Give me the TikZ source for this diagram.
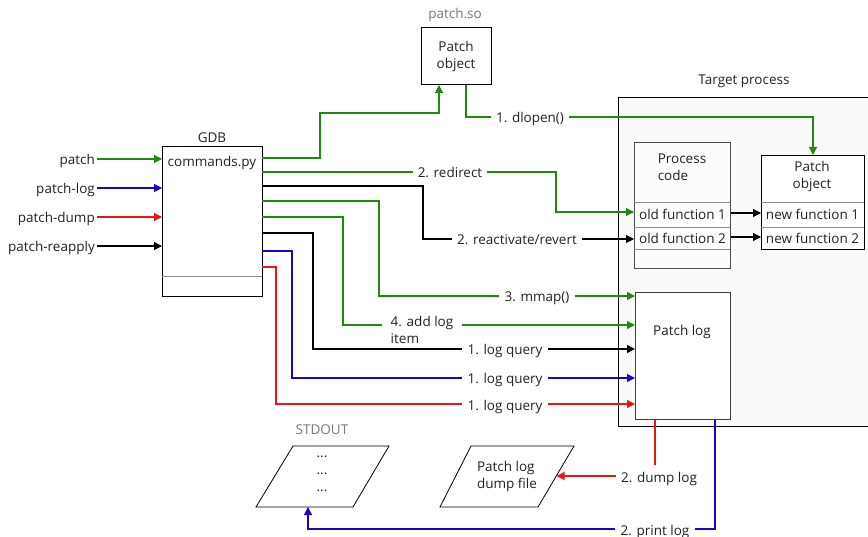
\documentclass[tikz,border=0pt]{standalone}
\usepackage{fontspec}
\setmainfont{Open Sans}
\usetikzlibrary{arrows.meta}
\definecolor{gcol}{RGB}{34,136,17}
\definecolor{bcol}{RGB}{34,0,204}
\definecolor{rcol}{RGB}{238,20,20}
\definecolor{txt}{RGB}{34,34,34}
\definecolor{dim}{RGB}{120,120,120}
\begin{document}
\begin{tikzpicture}[x=1pt,y=-1pt,
  font=\fontsize{13.5}{17}\selectfont,
  every node/.style={text=txt},
  tl/.style={text height=12pt,text depth=0pt,inner ysep=0pt,inner xsep=5pt},
  tip/.style={-{Triangle[length=8pt,width=8pt]}},
  G/.style={draw=gcol,line width=1.1pt},
  B/.style={draw=bcol,line width=1.1pt},
  R/.style={draw=rcol,line width=1.1pt},
  K/.style={draw=black,line width=1.1pt},
  box/.style={draw,line width=1pt,anchor=north west,inner sep=0pt},
  sep/.style={draw=black!45,line width=0.8pt}]
\useasboundingbox (0,0) rectangle (868,537);
\fill[white] (0,0) rectangle (868,537);

% Target process container
\draw[fill=black!2,line width=1pt] (880,98) -- (618,98) -- (618,426) -- (880,426);
\node[tl] (tplbl) at (744,79) {Target process};

% GDB
\node[box,fill=white,minimum width=100pt,minimum height=150pt] (gdb) at (162,146) {};
\draw[sep] (162,276) -- (262,276);
\node[tl] (gdblbl) at (212,137) {GDB};
\node[tl] (cmd) at (212,161) {commands.py};

% patch.so
\node[tl,text=dim] (psolbl) at (455,13) {patch.so};
\node[box,fill=white,minimum width=70pt,minimum height=57pt] (pso) at (421,27) {};
\node[align=center] (psotxt) at (456,56) {Patch\\object};

% Process code
\node[box,draw=black!70,fill=black!1,minimum width=96pt,minimum height=126pt] (pc) at (634,142) {};
\draw[sep] (634,202) -- (730,202);
\draw[sep] (634,227) -- (730,227);
\draw[sep] (634,249) -- (730,249);
\node[align=left] (pctxt) at (682,167.5) {Process\\code};
\node[tl,inner xsep=0pt] (of1) at (682.5,214) {old function 1};
\node[tl,inner xsep=0pt] (of2) at (682.5,238) {old function 2};

% Patch object in target
\node[box,fill=white,line width=1.3pt,minimum width=103pt,minimum height=94pt] (tpo) at (761,155) {};
\draw[sep] (761,202) -- (864,202);
\draw[sep] (761,227) -- (864,227);
\node[align=center] (tpotxt) at (812,176) {Patch\\object};
\node[tl,inner xsep=0pt] (nf1) at (812.5,214) {new function 1};
\node[tl,inner xsep=0pt] (nf2) at (812.5,238) {new function 2};

% Patch log
\node[box,draw=black!75,fill=white,minimum width=95pt,minimum height=127pt] (pl) at (635,292) {};
\node[tl] (pltxt) at (682,330) {Patch log};

% inputs
\node[tl,anchor=east,inner xsep=2pt] (in1) at (97,159) {patch};
\node[tl,anchor=east,inner xsep=2pt] (in2) at (97,188) {patch-log};
\node[tl,anchor=east,inner xsep=2pt] (in3) at (97,217) {patch-dump};
\node[tl,anchor=east,inner xsep=2pt] (in4) at (97,246) {patch-reapply};
\draw[G,tip] (in1.east) -- (in1.east -| gdb.west);
\draw[B,tip] (in2.east) -- (in2.east -| gdb.west);
\draw[R,tip] (in3.east) -- (in3.east -| gdb.west);
\draw[K,tip] (in4.east) -- (in4.east -| gdb.west);

% GDB outputs
\coordinate (o1) at (262,158);
\coordinate (o2) at (262,172);
\coordinate (o3) at (262,186);
\coordinate (o4) at (262,201);
\coordinate (o5) at (262,217);
\coordinate (o6) at (262,233);
\coordinate (o7) at (262,251);
\coordinate (o8) at (262,267);

% load patch
\draw[G,tip] (o1) -- (320,158) -- (320,113) -- (439,113) -- (pso.south -| 439,0);
\node[tl] (dl) at (530,117) {1. dlopen()};
\draw[G] (pso.south -| 466,0) -- (466,117) -- (dl.west);
\draw[G,tip] (dl.east) -- (813,117) -- (tpo.north -| 813,0);

% redirect
\node[tl] (rd) at (450,172) {2. redirect};
\draw[G] (o2) -- (rd.west);
\draw[G,tip] (rd.east) -- (556,172) -- (556,212) -- (pc.west |- 0,212);
\draw[K,tip] (pc.east |- 0,213) -- (tpo.west |- 0,213);
\draw[K,tip] (pc.east |- 0,237) -- (tpo.west |- 0,237);

% reactivate
\node[tl] (rr) at (517,239) {2. reactivate/revert};
\draw[K] (o3) -- (423,186) -- (423,239) -- (rr.west);
\draw[K,tip] (rr.east) -- (pc.west |- rr);

% mmap
\node[tl] (mm) at (537,296) {3. mmap()};
\draw[G] (o4) -- (379,201) -- (379,296) -- (mm.west);
\draw[G,tip] (mm.east) -- (pl.west |- mm);

% add log item
\node[align=left,inner xsep=9pt,inner ysep=0pt] (al) at (422,329.5) {4. add log\\item};
\draw[G] (o5) -- (343,217) -- (343,325) -- (al.west |- 0,325);
\draw[G,tip] (al.east |- 0,325) -- (pl.west |- 0,325);

% log queries
\node[tl] (lq1) at (505,349) {1. log query};
\draw[K] (o6) -- (313,233) -- (313,349) -- (lq1.west);
\draw[K,tip] (lq1.east) -- (pl.west |- lq1);
\node[tl] (lq2) at (505,378) {1. log query};
\draw[B] (o7) -- (292,251) -- (292,378) -- (lq2.west);
\draw[B,tip] (lq2.east) -- (pl.west |- lq2);
\node[tl] (lq3) at (505,404) {1. log query};
\draw[R] (o8) -- (276,267) -- (276,404) -- (lq3.west);
\draw[R,tip] (lq3.east) -- (pl.west |- lq3);

% STDOUT
\node[tl,text=dim] (stdlbl) at (322,429) {STDOUT};
\draw[line width=0.8pt] (256,507) -- (293,446) -- (389,446) -- (353,507) -- cycle;
\node[align=center,inner sep=0pt] (dots) at (322,474) {...\\...\\...};
\coordinate (stdin) at (308,507);

% dump file
\draw[line width=0.8pt] (440,507) -- (471,446) -- (574,446) -- (538,507) -- cycle;
\node[align=left] (dftxt) at (507,476.5) {Patch log\\dump file};
\coordinate (dfin) at (556.5,476);

% dump log
\node[tl] (dump) at (659,476) {2. dump log};
\draw[R] (pl.south -| 655,0) -- (655,465);
\draw[R,tip] (dump.west) -- (dfin);

% print log
\node[tl] (pr) at (655,529) {2. print log};
\draw[B] (pl.south -| 715,0) -- (715,529) -- (pr.east);
\draw[B,tip] (pr.west) -- (308,529) -- (stdin);
\end{tikzpicture}
\end{document}
